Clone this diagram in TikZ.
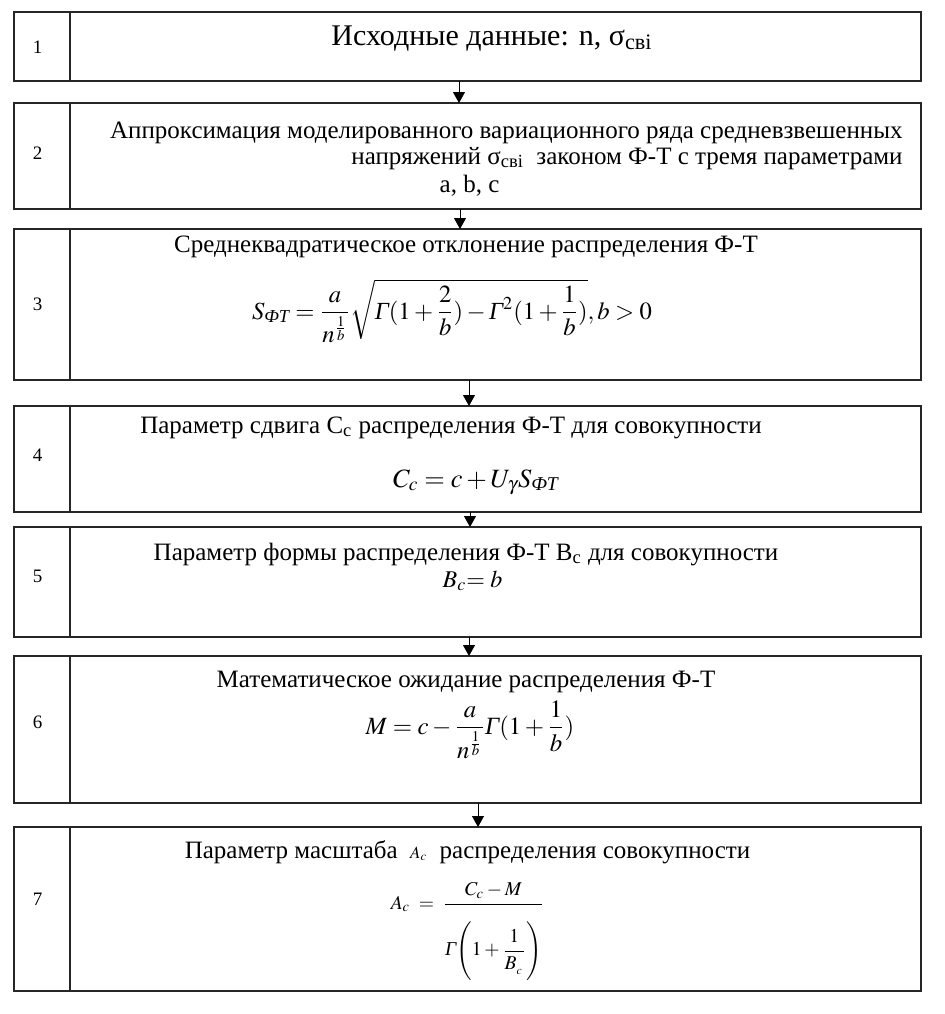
\documentclass[tikz,border=0pt]{standalone}
\usepackage{amsmath}
\usepackage{mathptmx}
\usepackage{fontspec}
\setmainfont{Liberation Serif}
\usepackage{tikz}
\usetikzlibrary{positioning,calc,arrows.meta}

\newcommand{\Gm}{\mbox{\itshape Γ}}
\newcommand{\FT}{\text{\itshape ФТ}}

\begin{document}
\begin{tikzpicture}[
  node distance=10pt,
  blk/.style={draw=black!85, line width=1pt, minimum width=453.5pt, outer sep=0pt, inner sep=0pt},
  sep/.style={draw=black!85, line width=1pt},
  num/.style={font=\fontsize{9.5}{11}\selectfont, inner sep=0pt},
  ttl/.style={font=\fontsize{12.5}{14}\selectfont, inner sep=0pt},
  frm/.style={font=\fontsize{#1}{#1}\selectfont, inner sep=0pt},
  frm/.default={10},
  arr/.style={-{Triangle[length=5.5pt,width=6pt]}, line width=0.5pt, black},
]

\useasboundingbox (0,0) rectangle (472.5pt,-507pt);

% ── Blocks ───────────────────────────────────────────────────
\node[blk, minimum height=34.5pt, anchor=north west] (b1) at (7pt,-6pt) {};
\node[blk, minimum height=53pt, below=11pt of b1]    (b2) {};
\node[blk, minimum height=75.5pt, below=10pt of b2]  (b3) {};
\node[blk, minimum height=53pt, below=13pt of b3]    (b4) {};
\node[blk, minimum height=55pt, below=7.5pt of b4]   (b5) {};
\node[blk, minimum height=73.5pt, below=9.5pt of b5] (b6) {};
\node[blk, minimum height=82pt, below=12pt of b6]    (b7) {};

% ── Number column ────────────────────────────────────────────
\foreach \b in {b1,b2,b3,b4,b5,b6,b7}
  \draw[sep] ([xshift=28pt]\b.north west) -- ([xshift=28pt]\b.south west);
\foreach \i/\dy in {1/17.75, 2/25.25, 3/37.5, 4/24.5, 5/24.5, 6/33.25, 7/36}
  \node[num] (n\i) at ([xshift=11.75pt,yshift=-\dy pt]b\i.north west) {\i};

% ── Block 1 ──────────────────────────────────────────────────
\node[ttl, font=\fontsize{15}{17}\selectfont, anchor=base] (t1) at ([xshift=12.25pt,yshift=-16.5pt]b1.north) {Исходные данные: n, σ\textsubscript{свi}};

% ── Block 2 ──────────────────────────────────────────────────
\node[ttl, anchor=base east] (t2a) at ([xshift=-9pt,yshift=-17.5pt]b2.north east) {Аппроксимация моделированного вариационного ряда средневзвешенных};
\node[ttl, anchor=base east] (t2b) at ([xshift=-9pt,yshift=-30.5pt]b2.north east) {напряжений σ\textsubscript{свi}\ \ законом Ф-Т с тремя параметрами};
\node[ttl, anchor=base]      (t2c) at ([xshift=1pt,yshift=-44.5pt]b2.north) {a, b, c};

% ── Block 3 ──────────────────────────────────────────────────
\node[ttl, anchor=base] (t3) at ([xshift=-0.75pt,yshift=-11.5pt]b3.north) {Среднеквадратическое отклонение распределения Ф-Т};
\node[frm=12.3, anchor=base] (f3) at ([xshift=-7.75pt,yshift=-45pt]b3.north)
  {$S_{\FT}=\dfrac{a}{n^{\frac{1}{b}}}\sqrt{\Gm(1+\dfrac{2}{b})-\Gm^{2}(1+\dfrac{1}{b})},b>0$};

% ── Block 4 ──────────────────────────────────────────────────
\node[ttl, anchor=base] (t4) at ([xshift=-8.25pt,yshift=-13.5pt]b4.north) {Параметр сдвига C\textsubscript{с} распределения Ф-Т для совокупности};
\node[frm=13.2, anchor=base] (f4) at ([xshift=4.25pt,yshift=-40.5pt]b4.north) {$C_c = c + U_{\gamma}S_{\FT}$};

% ── Block 5 ──────────────────────────────────────────────────
\node[ttl, anchor=base] (t5) at ([xshift=-0.75pt,yshift=-16.5pt]b5.north) {Параметр формы распределения Ф-Т B\textsubscript{с} для совокупности};
\node[frm=12, anchor=base] (f5) at ([xshift=2.5pt,yshift=-30pt]b5.north) {$B_c{=}\;b$};

% ── Block 6 ──────────────────────────────────────────────────
\node[ttl, anchor=base] (t6) at ([xshift=-0.75pt,yshift=-15.5pt]b6.north) {Математическое ожидание распределения Ф-Т};
\node[frm=12.4, anchor=base] (f6) at ([xshift=1.25pt,yshift=-39pt]b6.north)
  {$M=c-\dfrac{a}{n^{\frac{1}{b}}}\Gm(1+\dfrac{1}{b})$};

% ── Block 7 ──────────────────────────────────────────────────
\node[ttl, anchor=base] (t7) at ([yshift=-15.5pt]b7.north) {Параметр масштаба \ {\fontsize{8.5}{9}\selectfont$A_c$}\ \ распределения совокупности};
\node[frm=9.8, anchor=base] (f7) at ([yshift=-41pt]b7.north)
  {$A_c\;=\;\dfrac{C_c-M}{\rule{0pt}{2.5em}\Gm\Biggl(1+\dfrac{1}{B_{{}_c}}\Biggr)}$};

% ── Arrows ───────────────────────────────────────────────────
\draw[arr] ([xshift=-4.25pt]b1.south) -- ([xshift=-4.25pt]b2.north);
\draw[arr] ([xshift=-3.75pt]b2.south) -- ([xshift=-3.75pt]b3.north);
\draw[arr] ([xshift=0.75pt]b3.south)  -- ([xshift=0.75pt]b4.north);
\draw[arr] ([xshift=1.25pt]b4.south)  -- ([xshift=1.25pt]b5.north);
\draw[arr] ([xshift=0.75pt]b5.south)  -- ([xshift=0.75pt]b6.north);
\draw[arr] ([xshift=5.25pt]b6.south)  -- ([xshift=5.25pt]b7.north);

\end{tikzpicture}
\end{document}
